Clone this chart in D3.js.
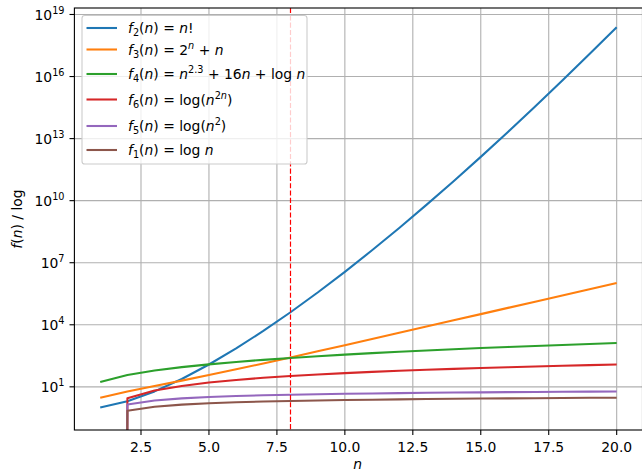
<!DOCTYPE html>
<html>
<head>
<meta charset="utf-8">
<script src="https://cdn.jsdelivr.net/npm/d3@7"></script>
<style>
  html, body { margin: 0; padding: 0; background: #fff; }
  svg { display: block; font-family: "DejaVu Sans", sans-serif; }
</style>
</head>
<body>
<svg id="chart" width="642" height="472"></svg>
<script>
// ---------------- data ----------------
const ns = [1,2,3,4,5,6,7,8,9,10,11,12,13,14,15,16,17,18,19,20];
const f2 = [1, 2, 6, 24, 120, 720, 5040, 40320, 362880, 3628800, 39916800, 479001600,
  6227020800, 87178291200, 1307674368000, 20922789888000, 355687428096000,
  6402373705728000, 121645100408832000, 2432902008176640000];
const f3 = [3, 6, 11, 20, 37, 70, 135, 264, 521, 1034, 2059, 4108, 8205, 16398, 32783,
  65552, 131089, 262162, 524307, 1048596];
const f4 = [17, 37.62, 61.61, 89.64, 122.13, 159.42, 201.80, 249.51, 302.79, 361.83,
  426.8, 498.0, 575.4, 659.2, 749.7, 846.9, 951.0, 1062.1, 1180.2, 1305.6];
const f6 = [0, 2.773, 6.592, 11.09, 16.09, 21.50, 27.24, 33.27, 39.55, 46.05, 52.75,
  59.64, 66.69, 73.89, 81.24, 88.72, 96.33, 104.05, 111.89, 119.83];
const f5 = [0, 1.386, 2.197, 2.773, 3.219, 3.584, 3.892, 4.159, 4.394, 4.605, 4.796,
  4.970, 5.130, 5.278, 5.416, 5.545, 5.666, 5.781, 5.889, 5.991];
const f1 = [0, 0.693, 1.099, 1.386, 1.609, 1.792, 1.946, 2.079, 2.197, 2.303, 2.398,
  2.485, 2.565, 2.639, 2.708, 2.773, 2.833, 2.890, 2.944, 2.996];

const seriesValues = [f2, f3, f4, f6, f5, f1];
const seriesLabels = [
  "f_{2}(n) = n!",
  "f_{3}(n) = 2^{n} + n",
  "f_{4}(n) = n^{2.3} + 16n + log n",
  "f_{6}(n) = log(n^{2n})",
  "f_{5}(n) = log(n^{2})",
  "f_{1}(n) = log n"
];
const seriesColors = ["#1f77b4", "#ff7f0e", "#2ca02c", "#d62728", "#9467bd", "#8c564b"];
const xTicks = [2.5, 5.0, 7.5, 10.0, 12.5, 15.0, 17.5, 20.0];
const yTickExponents = [1, 4, 7, 10, 13, 16, 19];
const markerX = 8;
const xDomain = [0.05, 20.95];
const yDomain = [Math.pow(10, -1.0865), Math.pow(10, 19.3134)];

// ---------------- layout ----------------
const svg = d3.select("#chart");
const L = 74.4, R = 642.5, T = 8, B = 430;
const FS = 13.9;

const x = d3.scaleLinear().domain(xDomain).range([L, R]);
const y = d3.scaleLog().domain(yDomain).range([B, T]);

// mathtext-like renderer
function mathTokens(s) {
  const out = [];
  let i = 0;
  function push(text, mode) {
    const parts = text.match(/log|[a-zA-Z]|[^a-zA-Z]+/g) || [];
    parts.forEach(p => out.push({ t: p, it: /^[a-zA-Z]$/.test(p), mode }));
  }
  let buf = "";
  while (i < s.length) {
    const c = s[i];
    if (c === "_" || c === "^") {
      if (buf) { push(buf, "n"); buf = ""; }
      const mode = c === "_" ? "sub" : "sup";
      i++;
      let grp;
      if (s[i] === "{") { const j = s.indexOf("}", i); grp = s.slice(i + 1, j); i = j + 1; }
      else { grp = s[i]; i++; }
      push(grp, mode);
    } else { buf += c; i++; }
  }
  if (buf) push(buf, "n");
  return out;
}
function renderMath(textSel, s, fs) {
  const toks = mathTokens(s);
  let cur = 0;
  toks.forEach(tk => {
    const target = tk.mode === "sub" ? 0.22 * fs : tk.mode === "sup" ? -0.42 * fs : 0;
    const size = tk.mode === "n" ? fs : fs * 0.7;
    textSel.append("tspan")
      .attr("dy", target - cur)
      .attr("font-size", size)
      .attr("font-style", tk.it ? "italic" : "normal")
      .style("white-space", "pre")
      .text(tk.t);
    cur = target;
  });
}

// clip
svg.append("defs").append("clipPath").attr("id", "plotclip")
  .append("rect").attr("x", L).attr("y", T).attr("width", R - L).attr("height", B - T);

// grid
const grid = svg.append("g");
xTicks.forEach(v => grid.append("line")
  .attr("x1", x(v)).attr("x2", x(v)).attr("y1", T).attr("y2", B)
  .attr("stroke", "#b0b0b0").attr("stroke-width", 1.1));
yTickExponents.forEach(e => grid.append("line")
  .attr("x1", L).attr("x2", R).attr("y1", y(Math.pow(10, e))).attr("y2", y(Math.pow(10, e)))
  .attr("stroke", "#b0b0b0").attr("stroke-width", 1.1));

// series lines
const line = d3.line()
  .x(d => x(d[0]))
  .y(d => y(d[1] > 0 ? d[1] : 1e-300));
const plot = svg.append("g").attr("clip-path", "url(#plotclip)");
seriesValues.forEach((vals, k) => {
  plot.append("path")
    .datum(ns.map((n, i) => [n, vals[i]]))
    .attr("d", line)
    .attr("fill", "none")
    .attr("stroke", seriesColors[k])
    .attr("stroke-width", 2.08)
    .attr("stroke-linejoin", "round");
});
// vertical marker
plot.append("line")
  .attr("x1", x(markerX)).attr("x2", x(markerX)).attr("y1", T).attr("y2", B)
  .attr("stroke", "#ff0000").attr("stroke-width", 1.2)
  .attr("stroke-dasharray", "5.1,2.2");

// spines
svg.append("rect").attr("x", L).attr("y", T).attr("width", R - L).attr("height", B - T)
  .attr("fill", "none").attr("stroke", "#000").attr("stroke-width", 1.1);

// x ticks
const xt = svg.append("g");
xTicks.forEach(v => {
  xt.append("line").attr("x1", x(v)).attr("x2", x(v)).attr("y1", B).attr("y2", B + 4.9)
    .attr("stroke", "#000").attr("stroke-width", 1.1);
  xt.append("text").attr("x", x(v)).attr("y", 452).attr("text-anchor", "middle")
    .attr("font-size", FS).attr("fill", "#000").text(v.toFixed(1));
});
// y ticks
const yt = svg.append("g");
yTickExponents.forEach(e => {
  const yy = y(Math.pow(10, e));
  yt.append("line").attr("x1", L - 4.9).attr("x2", L).attr("y1", yy).attr("y2", yy)
    .attr("stroke", "#000").attr("stroke-width", 1.1);
  const t = yt.append("text").attr("x", 64.5).attr("y", yy + 5.3).attr("text-anchor", "end")
    .attr("fill", "#000");
  renderMath(t, "10^{" + e + "}", FS);
});

// axis labels
const xl = svg.append("text").attr("x", (L + 641) / 2).attr("y", 469).attr("text-anchor", "middle");
renderMath(xl, "n", FS);
const yl = svg.append("text").attr("transform", `translate(21.5,${(T + B) / 2}) rotate(-90)`)
  .attr("text-anchor", "middle");
renderMath(yl, "f(n) / log", FS);

// legend
const lg = svg.append("g");
lg.append("rect").attr("x", 82).attr("y", 15.5).attr("width", 225).attr("height", 148.5)
  .attr("rx", 2.8).attr("ry", 2.8)
  .attr("fill", "#fff").attr("fill-opacity", 0.8)
  .attr("stroke", "#cccccc").attr("stroke-width", 1.1);
const rowCenters = [28, 49.5, 74, 99.5, 126, 150];
seriesLabels.forEach((lab, k) => {
  const cy = rowCenters[k];
  lg.append("line").attr("x1", 86.5).attr("x2", 117).attr("y1", cy).attr("y2", cy)
    .attr("stroke", seriesColors[k]).attr("stroke-width", 2.08);
  const t = lg.append("text").attr("x", 128).attr("y", cy + 5).attr("fill", "#000");
  renderMath(t, lab, FS);
});
</script>
</body>
</html>
